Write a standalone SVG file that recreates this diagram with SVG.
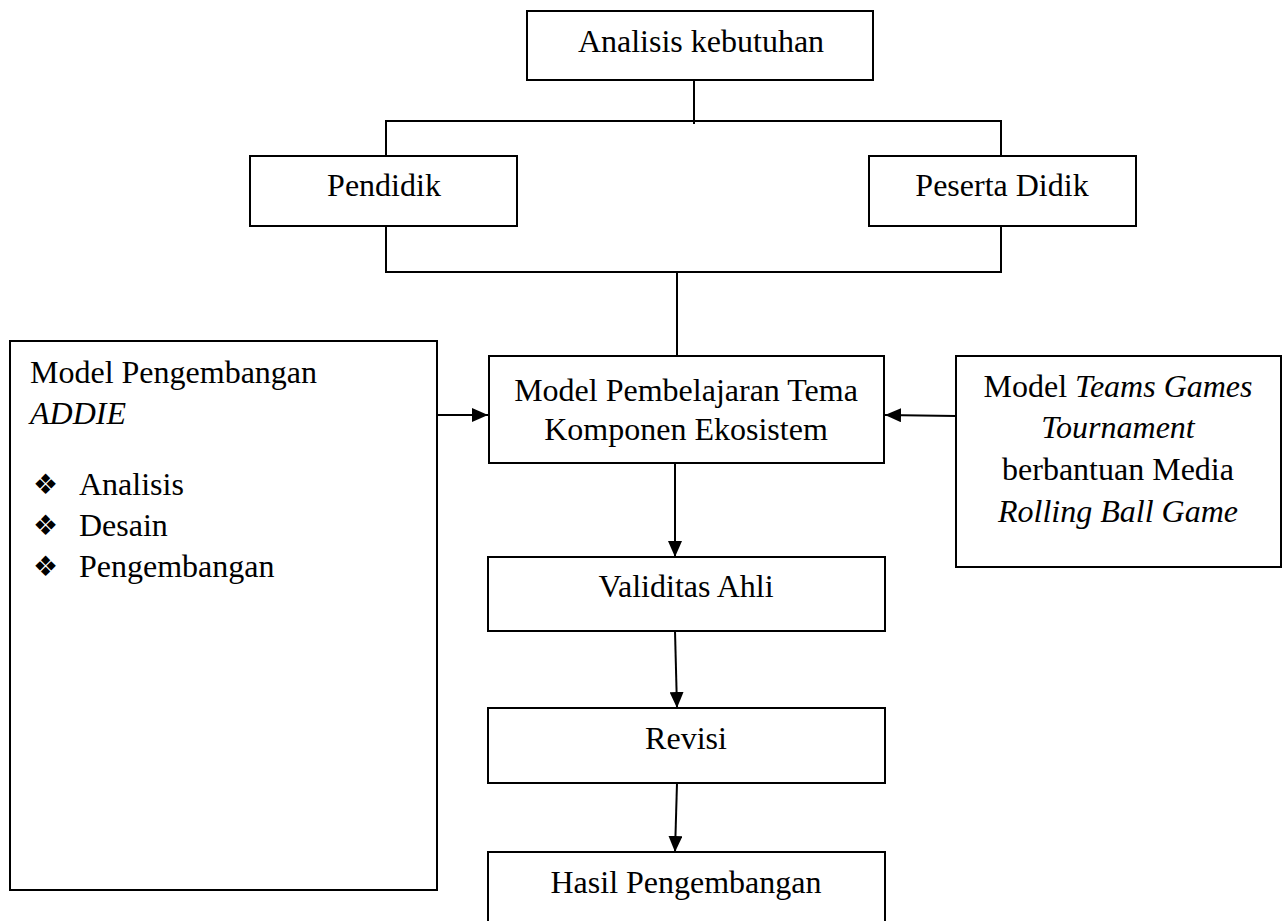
<svg xmlns="http://www.w3.org/2000/svg" width="1288" height="921" viewBox="0 0 1288 921">
<style>
.box{fill:#fff;stroke:#000;stroke-width:2}
.t{font-family:"Liberation Serif","Times New Roman",serif;font-size:32px;fill:#000}
.c{text-anchor:middle}
.i{font-style:italic}
.con{fill:none;stroke:#000;stroke-width:2}
.bul{font-family:"DejaVu Sans",sans-serif;font-size:28px;fill:#000}
</style>
<defs>
<marker id="ah" markerUnits="userSpaceOnUse" markerWidth="16" markerHeight="14" refX="16" refY="7" orient="auto">
<path d="M0,0 L16,7 L0,14 z" fill="#000"/>
</marker>
</defs>
<rect width="1288" height="921" fill="#fff"/>
<g id="connectors">
<path class="con" d="M694,80 V124"/>
<path class="con" d="M386,156 V121 H1001 V156"/>
<path class="con" d="M386,226 V272 H1001 V226"/>
<path class="con" d="M677,272 V356"/>
<path class="con" d="M437,415 H488" marker-end="url(#ah)"/>
<path class="con" d="M956,416 L885,415" marker-end="url(#ah)"/>
<path class="con" d="M675,463 V557" marker-end="url(#ah)"/>
<path class="con" d="M675,631 L677,708" marker-end="url(#ah)"/>
<path class="con" d="M677,783 L675,852" marker-end="url(#ah)"/>
</g>
<g id="analisis-kebutuhan">
<rect class="box" x="527" y="11" width="346" height="69"/>
<text class="t c" x="701" y="52">Analisis kebutuhan</text>
</g>
<g id="pendidik">
<rect class="box" x="250" y="156" width="267" height="70"/>
<text class="t c" x="384" y="196">Pendidik</text>
</g>
<g id="peserta-didik">
<rect class="box" x="869" y="156" width="267" height="70"/>
<text class="t c" x="1002" y="196">Peserta Didik</text>
</g>
<g id="model-addie">
<rect class="box" x="10" y="341" width="427" height="549"/>
<text class="t" x="30" y="383">Model Pengembangan</text>
<text class="t i" x="30" y="424">ADDIE</text>
<text class="bul" x="33" y="494">❖</text>
<text class="t" x="79" y="495">Analisis</text>
<text class="bul" x="33" y="535">❖</text>
<text class="t" x="79" y="536">Desain</text>
<text class="bul" x="33" y="576">❖</text>
<text class="t" x="79" y="577">Pengembangan</text>
</g>
<g id="model-pembelajaran">
<rect class="box" x="489" y="356" width="395" height="107"/>
<text class="t c" x="686" y="401">Model Pembelajaran Tema</text>
<text class="t c" x="686" y="440">Komponen Ekosistem</text>
</g>
<g id="model-tgt">
<rect class="box" x="956" y="356" width="325" height="211"/>
<text class="t c" x="1118" y="397">Model <tspan class="i">Teams Games</tspan></text>
<text class="t c i" x="1118" y="438">Tournament</text>
<text class="t c" x="1118" y="480">berbantuan Media</text>
<text class="t c i" x="1118" y="522">Rolling Ball Game</text>
</g>
<g id="validitas-ahli">
<rect class="box" x="488" y="557" width="397" height="74"/>
<text class="t c" x="686" y="597">Validitas Ahli</text>
</g>
<g id="revisi">
<rect class="box" x="488" y="708" width="397" height="75"/>
<text class="t c" x="686" y="749">Revisi</text>
</g>
<g id="hasil-pengembangan">
<rect class="box" x="488" y="852" width="397" height="90"/>
<text class="t c" x="686" y="893">Hasil Pengembangan</text>
</g>
</svg>
